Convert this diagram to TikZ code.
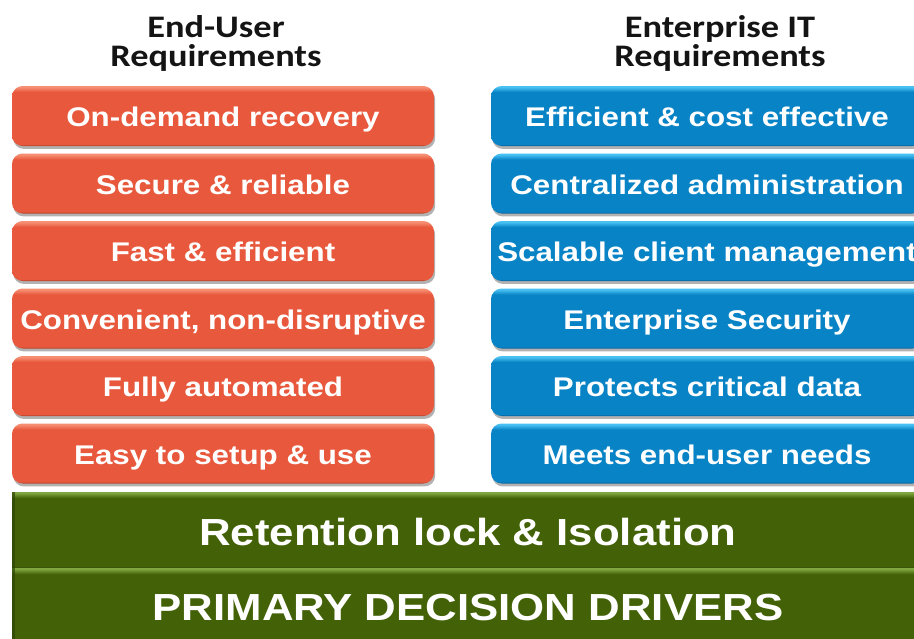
\documentclass[tikz,border=0pt]{standalone}
\usepackage{fontspec}
\usetikzlibrary{shadows}
\newfontfamily\boxfont[FakeStretch=1.16]{Liberation Sans}
\newfontfamily\headfont[FakeStretch=1.16]{Carlito}

\definecolor{orBody}{RGB}{232,88,60}
\definecolor{orTop}{RGB}{246,142,114}
\definecolor{orBot}{RGB}{170,58,38}
\definecolor{blBody}{RGB}{8,132,198}
\definecolor{blTop}{RGB}{72,192,242}
\definecolor{blBot}{RGB}{6,88,146}
\definecolor{grBody}{RGB}{67,97,7}
\definecolor{grTop}{RGB}{128,168,64}
\definecolor{grBot}{RGB}{46,70,8}
\definecolor{headText}{RGB}{20,20,20}

% vertical shadings: the path covers the band from 25bp to 75bp
\pgfdeclareverticalshading{orangeshade}{100bp}{color(0bp)=(orBot); color(25bp)=(orBot); color(26.6bp)=(orBody); color(70bp)=(orBody); color(74bp)=(orTop); color(75bp)=(orTop); color(100bp)=(orTop)}
\pgfdeclareverticalshading{blueshade}{100bp}{color(0bp)=(blBot); color(25bp)=(blBot); color(26.6bp)=(blBody); color(70bp)=(blBody); color(74bp)=(blTop); color(75bp)=(blTop); color(100bp)=(blTop)}
\pgfdeclareverticalshading{greenshade}{100bp}{color(0bp)=(grBot); color(25bp)=(grBot); color(26.2bp)=(grBody); color(71bp)=(grBody); color(74.5bp)=(grTop); color(75bp)=(grTop); color(100bp)=(grTop)}

\tikzset{
  reqbox/.style={rectangle, rounded corners=8pt, inner sep=0pt,
    minimum width=316.5pt, minimum height=45pt,
    text height=15.75pt, text depth=0pt,
    font=\boxfont\bfseries\fontsize{20.25pt}{24pt}\selectfont, text=white,
    drop shadow={shadow xshift=0.9pt, shadow yshift=-2.2pt, fill=black, opacity=0.3}},
  userbox/.style={reqbox, shading=orangeshade},
  itbox/.style={reqbox, shading=blueshade, minimum width=324pt},
  greenbar/.style={rectangle, inner sep=0pt, minimum width=684pt,
    shading=greenshade, text=white, text depth=0pt,
    font=\boxfont\bfseries\fontsize{28.3pt}{32pt}\selectfont},
  header/.style={anchor=base, inner sep=0pt, text=headText,
    font=\headfont\bfseries\fontsize{23.5pt}{28pt}\selectfont},
}

\begin{document}
\begin{tikzpicture}[x=0.75pt, y=-0.75pt]
\useasboundingbox (0,0) rectangle (914,639);
\clip (0,0) rectangle (914,639);

% column headings
\node[header] (hu1) at (216,37) {End-User};
\node[header] (hu2) at (216,66) {Requirements};
\node[header] (hi1) at (720,37) {Enterprise IT};
\node[header] (hi2) at (720,66) {Requirements};

% end-user requirements
\node[userbox] (u1) at (223,116)   {On-demand recovery};
\node[userbox] (u2) at (223,183.5) {Secure \& reliable};
\node[userbox] (u3) at (223,251)   {Fast \& efficient};
\node[userbox] (u4) at (223,318.5) {Convenient, non-disruptive};
\node[userbox] (u5) at (223,386)   {Fully automated};
\node[userbox] (u6) at (223,453.5) {Easy to setup \& use};

% enterprise IT requirements
\node[itbox] (i1) at (707,116)   {Efficient \& cost effective};
\node[itbox] (i2) at (707,183.5) {Centralized administration};
\node[itbox] (i3) at (707,251)   {Scalable client management};
\node[itbox] (i4) at (707,318.5) {Enterprise Security};
\node[itbox] (i5) at (707,386)   {Protects critical data};
\node[itbox] (i6) at (707,453.5) {Meets end-user needs};

% foundation bars
\node[greenbar, minimum height=57pt, text height=23.25pt] (g1) at (468,530) {Retention lock \& Isolation};
\node[greenbar, minimum height=58.5pt, text height=19.5pt] (g2) at (468,607) {PRIMARY DECISION DRIVERS};
\fill[grBot, opacity=0.7] (g1.north west) rectangle ([xshift=2.2pt]g2.south west);
\end{tikzpicture}
\end{document}
